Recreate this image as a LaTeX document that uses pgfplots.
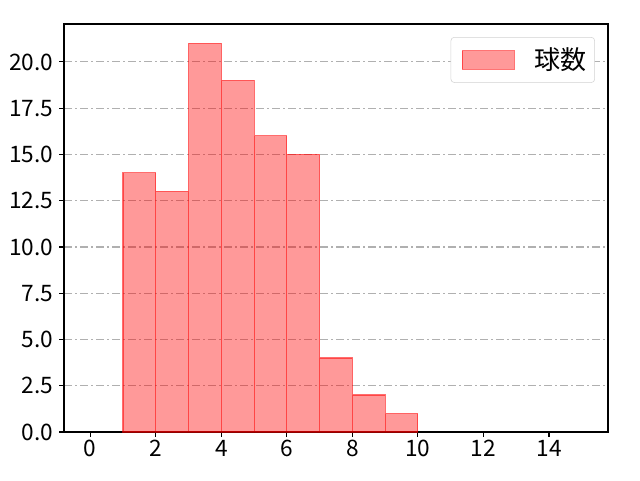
\documentclass[border=0pt]{standalone}
\usepackage{fontspec}
\setmainfont{Noto Sans CJK JP}
\usepackage{pgfplots}
\pgfplotsset{compat=1.18}
\definecolor{gridgray}{HTML}{B0B0B0}
\begin{document}
\begin{tikzpicture}
\path[use as bounding box] (-48pt,-36pt) rectangle (432pt,324pt);
\begin{axis}[
    at={(0pt,0pt)}, anchor=south west,
    scale only axis,
    width=408pt, height=306pt,
    xmin=-0.8, xmax=15.8,
    ymin=0, ymax=22.05,
    xtick={0,2,4,6,8,10,12,14},
    ytick={0,2.5,5,7.5,10,12.5,15,17.5,20},
    yticklabel style={xshift=-1pt, /pgf/number format/fixed, /pgf/number format/fixed zerofill, /pgf/number format/precision=1},
    /pgf/number format/assume math mode=true,
    tick label style={font=\fontsize{17}{19}\selectfont},
    xticklabel style={yshift=1pt},
    tick align=outside,
    major tick length=3.6pt,
    xtick pos=bottom, ytick pos=left,
    axis line style={line width=0.83pt},
    every tick/.style={line width=0.83pt, black},
    ymajorgrids,
    major grid style={gridgray, line width=0.83pt, dash pattern=on 6pt off 2.5pt on 1pt off 2.5pt},
    legend style={at={(0.976,0.968)}, anchor=north east, draw=gray!35, rounded corners=2.5pt,
        font=\fontsize{19.5}{21}\selectfont, inner xsep=4pt, inner ysep=6pt},
    legend cell align=left,
    legend image code/.code={\path (-4pt,0pt); \draw[#1, sharp corners] (0pt,-7pt) rectangle (39pt,7pt);},
]
\addplot[ybar interval, fill=red, fill opacity=0.4, draw=red, draw opacity=0.55, line width=0.8pt]
coordinates {(1,14) (2,13) (3,21) (4,19) (5,16) (6,15) (7,4) (8,2) (9,1) (10,0)};
\addlegendentry{\hspace{13pt}球数}
\end{axis}
\end{tikzpicture}
\end{document}
